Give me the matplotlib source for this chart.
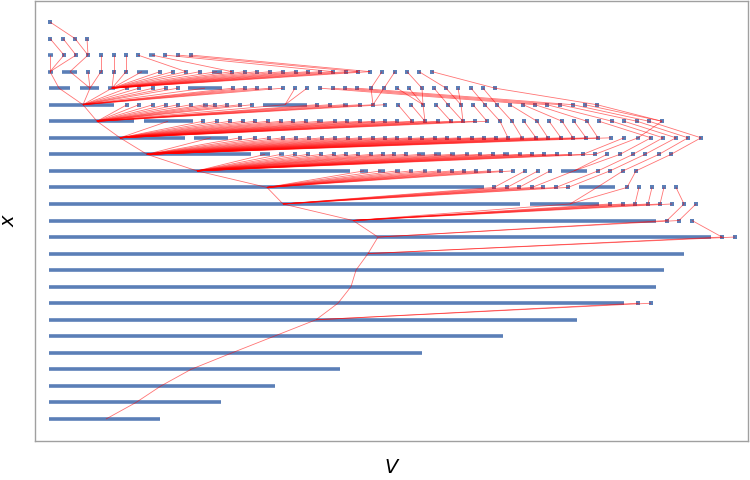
import matplotlib
matplotlib.use("Agg")
import matplotlib.pyplot as plt
from matplotlib.collections import LineCollection

# Each row (level of x, bottom = 0) lists its pieces along V.
# bar    : (start, end, anchor, parent_anchor_on_row_below)
# square : (center, parent_anchor_on_row_below)
r00 = [(49, 160, 106, None)]
r01 = [(49, 221, 136, 106)]
r02 = [(49, 275, 161, 136)]
r03 = [(49, 340, 191, 161)]
r04 = [(49, 422, 232, 191)]
r05 = [(49, 503, 274, 232)]
r06 = [(49, 577, 316, 274)]
r07 = [(49, 624, 338, 316), (638, 316), (651, 316)]
r08 = [(49, 656, 351, 338)]
r09 = [(49, 664, 356, 351)]
r10 = [(49, 684, 368, 356)]
r11 = [(49, 711, 378, 368), (722, 368), (735, 368)]
r12 = [(49, 656, 353, 378), (667, 378), (679, 378), (692, 722)]
r13 = [(49, 520, 283, 353), (530, 599, 570, 353), (610, 353), (623, 353), (635, 353),
       (648, 353), (660, 353), (672, 353), (684, 667), (696, 679)]
r14 = [(49, 484, 267, 283), (494, 283), (507, 283), (519, 283), (532, 283), (543, 283),
       (556, 283), (568, 283), (579, 615, 597, 570), (627, 570), (639, 635), (652, 648),
       (664, 660), (676, 684)]
r15 = [(49, 350, 197, 267), (360, 368, 364, 267), (378, 385, 381, 267), (395, 400, 397, 267),
       (409, 413, 411, 267), (423, 427, 425, 267), (437, 441, 439, 267), (452, 267), (464, 267),
       (476, 267), (489, 267), (501, 267), (513, 267), (525, 494), (538, 507), (550, 519),
       (561, 587, 574, 532), (598, 556), (610, 568), (623, 597), (636, 627)]
r16 = [(49, 251, 147, 197), (260, 270, 265, 197), (279, 284, 281, 197), (295, 197), (308, 197),
       (321, 197), (334, 197), (346, 197), (358, 197), (371, 197), (383, 197), (394, 197),
       (406, 197), (417, 425, 421, 197), (434, 441, 437, 197), (450, 455, 452, 197),
       (465, 469, 467, 197), (478, 482, 480, 197), (493, 197), (503, 509, 506, 197),
       (518, 522, 520, 197), (532, 197), (544, 197), (557, 197), (570, 197), (583, 197),
       (595, 197), (607, 574), (620, 574), (633, 598), (645, 610), (659, 623), (671, 636)]
r17 = [(49, 185, 120, 147), (194, 228, 211, 147), (240, 147), (255, 147), (269, 147), (283, 147),
       (296, 147), (309, 147), (322, 147), (335, 147), (348, 147), (360, 147), (373, 147),
       (385, 147), (397, 147), (410, 147), (422, 147), (435, 147), (447, 147), (459, 147),
       (472, 147), (484, 147), (496, 147), (508, 147), (520, 524, 522, 147), (536, 147),
       (548, 147), (561, 147), (573, 147), (586, 147), (598, 147), (611, 147), (624, 583),
       (636, 640, 638, 595), (651, 620), (663, 633), (676, 645), (688, 659), (701, 671)]
r18 = [(49, 134, 97, 120), (144, 193, 168, 120), (203, 120), (217, 120), (230, 120), (243, 120),
       (255, 120), (268, 120), (281, 120), (293, 120), (306, 120), (317, 323, 320, 120),
       (335, 120), (347, 120), (360, 120), (373, 120), (385, 120), (397, 120), (412, 120),
       (425, 120), (438, 120), (451, 120), (463, 120), (475, 120), (487, 120), (500, 508),
       (512, 522), (524, 536), (537, 548), (549, 561), (562, 573), (574, 586), (587, 598),
       (599, 651), (612, 663), (624, 676), (637, 688), (649, 701), (662, 638)]
r19 = [(49, 114, 83, 97), (127, 97), (139, 97), (153, 97), (166, 97), (178, 97), (191, 97),
       (203, 208, 205, 97), (215, 97), (227, 97), (240, 97), (252, 97), (263, 307, 285, 97),
       (317, 97), (330, 97), (343, 348, 345, 97), (360, 97), (373, 97), (385, 97), (398, 412),
       (411, 425), (423, 425), (436, 451), (448, 463), (461, 463), (473, 487), (485, 500),
       (497, 512), (510, 537), (523, 562), (535, 587), (547, 612), (560, 637), (573, 649),
       (585, 662), (597, 662)]
r20 = [(49, 70, 59, 83), (80, 99, 90, 83), (108, 115, 112, 83), (127, 83), (139, 83), (153, 83),
       (166, 83), (178, 83), (188, 222, 205, 83), (233, 83), (245, 83), (257, 83), (270, 83),
       (283, 83), (295, 285), (307, 285), (320, 535), (333, 547), (345, 560), (357, 573),
       (371, 373), (384, 373), (397, 423), (409, 423), (422, 423), (434, 448), (446, 461),
       (458, 461), (471, 485), (483, 497), (495, 597)]
r21 = [(48, 53, 50, 59), (62, 77, 70, 90), (88, 90), (101, 90), (114, 112), (126, 112),
       (137, 148, 142, 112), (160, 112), (173, 112), (186, 112), (200, 112),
       (212, 222, 217, 112), (232, 112), (245, 112), (257, 112), (270, 112), (283, 112),
       (296, 112), (308, 112), (320, 112), (333, 112), (346, 112), (358, 112), (370, 112),
       (382, 371), (395, 384), (407, 422), (419, 446), (432, 495)]
r22 = [(48, 53, 50, 50), (64, 50), (76, 50), (88, 70), (101, 101), (114, 114), (126, 126),
       (138, 186), (149, 155, 152, 232), (165, 333), (178, 358), (191, 370)]
r23 = [(50, 64), (63, 76), (75, 88), (87, 88)]
r24 = [(50, 75)]

rows = [r00, r01, r02, r03, r04, r05, r06, r07, r08, r09, r10, r11, r12,
        r13, r14, r15, r16, r17, r18, r19, r20, r21, r22, r23, r24]

x_label = "V"
y_label = "x"

blue = "#5b7fb7"
fig = plt.figure(figsize=(7.5, 4.8), dpi=100)
ax = fig.add_axes([35 / 750, 39 / 480, 713 / 750, 440 / 480])

bars, links = [], []
sq_x, sq_y = [], []
for k, row in enumerate(rows):
    for item in row:
        if len(item) == 4:
            s, e, a, p = item
            bars.append([(s, k), (e, k)])
        else:
            a, p = item
            sq_x.append(a)
            sq_y.append(k)
        if p is not None:
            links.append([(a, k), (p, k - 1)])

ax.add_collection(LineCollection(bars, colors=blue, linewidths=2.6,
                                 capstyle="butt", zorder=2))
ax.plot(sq_x, sq_y, linestyle="none", marker="s", markersize=2.9,
        markerfacecolor=blue, markeredgewidth=0, zorder=2)
ax.add_collection(LineCollection(links, colors=(1, 0, 0, 0.55), linewidths=0.6,
                                 zorder=3))

ax.set_xlim(35, 748)
ax.set_ylim(-1.33, 25.27)
ax.set_xticks([])
ax.set_yticks([])
for sp in ax.spines.values():
    sp.set_color("#a0a0a0")
    sp.set_linewidth(1.0)

ax.set_xlabel(x_label, fontsize=14, style="italic", family="DejaVu Sans", labelpad=12)
ax.set_ylabel(y_label, fontsize=14, style="italic", family="DejaVu Sans", labelpad=12)

fig.savefig("out.png", dpi=100, facecolor="white")
